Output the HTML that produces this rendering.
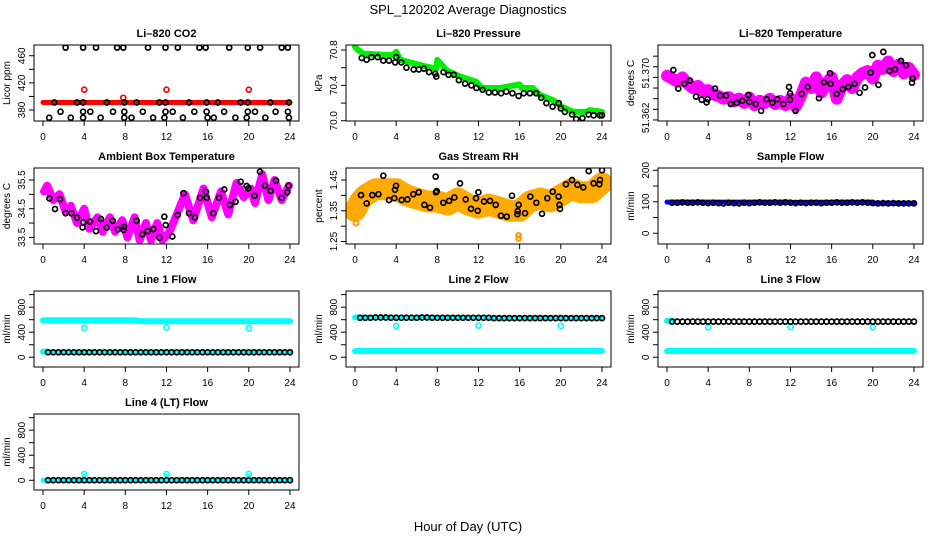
<!DOCTYPE html>
<html><head><meta charset="utf-8">
<style>
html,body{margin:0;padding:0;background:#fff;}
svg{display:block;font-family:"Liberation Sans",sans-serif;}
</style></head>
<body>
<svg id="chart" width="936" height="540" viewBox="0 0 936 540" xmlns="http://www.w3.org/2000/svg">
<text x="468" y="14" font-size="13" text-anchor="middle">SPL_120202  Average Diagnostics</text>
<text x="468" y="531" font-size="13" text-anchor="middle">Hour of Day (UTC)</text>
</svg>
<script>
// ---- data ----
var xTicks = [0,4,8,12,16,20,24];
// CO2
var co2RedHours = [0,24];
var co2RedVals = [391,391];
var co2RedOutHours = [4,12,20,7.8];
var co2RedOutVals = [410,410,410,398];
var co2BlackHours = [2.2,3.9,5.15,7.2,7.8,10.2,11.9,13.1,15.2,15.8,18.1,19.9,21.1,23.2,23.8,
 1.1,3.3,3.9,6.2,7.9,9.1,11.3,11.9,14.2,15.9,17.0,19.2,19.9,22.1,23.9,
 1.7,3.9,4.6,6.8,7.9,9.7,11.9,12.6,14.7,15.9,17.6,19.9,20.6,22.6,23.8,
 0.6,2.7,3.9,5.6,7.9,8.6,10.7,11.8,13.6,16.0,16.6,18.7,19.8,21.6,23.9];
var co2BlackVals = [472,472,472,472,472,472,472,472,472,472,472,472,472,472,472,
 391,391,391,391,391,391,391,391,391,391,391,391,391,391,391,
 377.5,377.5,377.5,377.5,377.5,377.5,377.5,377.5,377.5,377.5,377.5,377.5,377.5,377.5,377.5,
 368.7,368.7,368.7,368.7,368.7,368.7,368.7,368.7,368.7,368.7,368.7,368.7,368.7,368.7,368.7];
// Pressure
var presGreenHours = [0,0.2,0.8,3.7,4.0,4.4,7.0,7.9,8.0,8.9,10.2,11.8,12.3,14.1,16.0,16.2,17.3,18.0,19.3,20.1,21.2,22.5,22.8,24];
var presGreenVals = [70.84,70.81,70.76,70.74,70.78,70.69,70.61,70.59,70.69,70.57,70.50,70.44,70.37,70.37,70.41,70.37,70.37,70.29,70.23,70.16,70.10,70.10,70.12,70.10];
var presBlackHours = [0.65,1.13,1.6,2.2,2.75,3.3,3.9,4.0,4.5,5.0,5.7,6.2,6.7,7.2,7.8,7.9,8.6,9.1,9.6,10.1,10.7,11.3,11.8,12.4,13.0,13.6,14.2,14.7,15.3,15.9,16.4,17.0,17.6,18.1,18.6,19.2,19.8,20.0,20.4,21.1,21.5,22.1,22.7,23.2,23.8,24.0];
var presBlackVals = [70.71,70.69,70.72,70.72,70.68,70.68,70.66,70.72,70.66,70.60,70.58,70.58,70.59,70.55,70.53,70.50,70.55,70.52,70.52,70.46,70.42,70.40,70.37,70.35,70.32,70.32,70.31,70.33,70.31,70.28,70.31,70.31,70.31,70.26,70.20,70.16,70.20,70.14,70.10,70.07,70.02,70.03,70.07,70.06,70.06,70.06];
// Li-820 temperature
var tempPinkHours = [0,0.5,1,1.5,2,2.5,3,3.5,4,4.5,5,5.5,6,6.5,7,7.5,8,8.5,9,9.5,10,10.5,11,11.5,12,12.5,13,13.5,14,14.5,15,15.5,16,16.5,17,17.5,18,18.5,19,19.5,20,20.5,21,21.5,22,22.5,23,23.5,24];
var tempPinkVals = [51.3703,51.3698,51.3692,51.3700,51.3688,51.3680,51.3684,51.3674,51.3676,51.3668,51.3665,51.3660,51.3663,51.3655,51.3660,51.3652,51.3662,51.3648,51.3656,51.3652,51.3660,51.3650,51.3656,51.3648,51.3660,51.3645,51.3665,51.3690,51.3680,51.3700,51.3672,51.3690,51.3700,51.3660,51.3685,51.3695,51.3680,51.3700,51.3708,51.3712,51.3698,51.3722,51.3716,51.3730,51.3712,51.3724,51.3708,51.3718,51.3705];
var tempBlackHours = [0.62,1.10,1.68,2.24,2.82,3.37,3.85,3.95,4.66,5.15,5.73,6.19,6.77,7.32,7.90,8.00,8.62,9.14,9.69,10.24,10.72,11.31,11.86,11.95,11.95,12.50,13.09,13.67,14.77,15.26,15.84,15.91,16.49,17.07,17.62,18.21,18.72,19.24,19.79,19.95,20.54,21.02,21.61,22.16,22.74,23.23,23.87,23.81];
var tempBlackVals = [51.3714,51.3679,51.3688,51.3694,51.3664,51.3658,51.3653,51.3659,51.3679,51.3666,51.3666,51.3650,51.3652,51.3656,51.3667,51.3654,51.3650,51.3637,51.3659,51.3652,51.3659,51.3650,51.3682,51.3670,51.3658,51.3637,51.3669,51.3682,51.3661,51.3691,51.3708,51.3688,51.3669,51.3678,51.3682,51.3688,51.3671,51.3681,51.3709,51.3742,51.3686,51.3748,51.3712,51.3715,51.3731,51.3723,51.3698,51.3690];
// Ambient box temperature
var ambPinkHours = [0.1,0.4,1.0,1.6,2.2,2.7,3.3,4.0,4.5,5.3,5.8,6.5,7.0,7.7,8.2,8.9,9.4,10.0,10.5,11.1,11.6,12.3,13.0,13.8,14.6,15.6,16.4,17.3,18.0,18.8,19.5,20.2,20.6,21.3,21.9,22.5,23.2,23.9];
var ambPinkVals = [35.1,35.3,34.8,35.0,34.4,34.6,34.0,34.5,33.8,34.2,33.7,34.2,33.7,34.1,33.5,34.2,33.4,34.0,33.4,34.0,33.4,33.7,34.3,35.0,34.1,35.2,34.2,35.1,34.3,35.4,34.9,35.2,34.7,35.7,34.8,35.5,34.8,35.3];
var ambBlackHours = [0.62,1.17,1.65,2.20,2.75,3.30,3.85,3.95,4.57,5.15,5.64,6.19,6.77,7.26,7.81,7.87,9.10,9.65,10.17,10.72,11.31,11.79,11.92,12.57,13.09,13.64,14.19,14.77,15.26,15.84,15.91,16.55,17.10,17.62,18.17,18.72,19.21,19.79,19.95,20.54,21.09,21.57,22.13,22.64,23.19,23.74,23.87];
var ambBlackVals = [34.86,34.49,34.83,34.34,34.34,34.19,33.85,34.03,34.05,33.72,34.14,33.84,34.08,33.78,33.76,33.87,34.08,33.61,33.72,33.79,33.49,34.22,33.93,33.53,34.28,35.04,34.34,34.19,34.88,35.09,34.88,34.34,34.88,35.17,34.63,34.74,35.44,35.29,35.21,34.95,35.79,35.30,35.12,35.48,34.88,35.07,35.30];
// Gas stream RH
var rhBandHours = [0,0.5,1,2,3,4,5,6,7,8,9,10,11,12,13,14,15,16,17,18,19,20,21,22,23,24];
var rhBandVals = [1.35,1.38,1.40,1.42,1.42,1.42,1.40,1.39,1.38,1.38,1.37,1.39,1.37,1.36,1.37,1.36,1.35,1.35,1.38,1.39,1.38,1.40,1.42,1.41,1.41,1.44];
var rhOutHours = [0.1,15.9,15.9];
var rhOutVals = [1.31,1.27,1.26];
var rhBlackHours = [0.58,1.13,1.68,2.27,2.75,3.30,3.82,3.89,3.98,4.54,5.09,5.67,6.19,6.74,7.29,7.84,7.87,7.94,8.58,9.14,9.65,10.20,10.76,11.27,11.76,11.92,11.99,12.54,13.12,13.67,14.19,14.74,15.26,15.78,15.81,15.91,16.52,17.04,17.62,18.17,18.69,19.21,19.79,19.86,19.92,20.51,21.09,21.61,22.19,22.71,23.19,23.74,23.81,24.0];
var rhBlackVals = [1.401,1.374,1.401,1.404,1.464,1.385,1.391,1.418,1.431,1.385,1.387,1.404,1.410,1.369,1.360,1.461,1.410,1.414,1.376,1.382,1.393,1.439,1.387,1.356,1.391,1.350,1.410,1.380,1.382,1.369,1.334,1.331,1.399,1.339,1.349,1.369,1.342,1.396,1.376,1.340,1.391,1.412,1.396,1.369,1.356,1.436,1.450,1.434,1.426,1.479,1.439,1.436,1.450,1.482];
// Flows (half-hourly black samples)
var flowHours = [0.5,1,1.5,2,2.5,3,3.5,4,4.5,5,5.5,6,6.5,7,7.5,8,8.5,9,9.5,10,10.5,11,11.5,12,12.5,13,13.5,14,14.5,15,15.5,16,16.5,17,17.5,18,18.5,19,19.5,20,20.5,21,21.5,22,22.5,23,23.5,24];
var sampleBlueHours = [0,12,12.1,20,20.1,24];
var sampleBlueVals = [99,99,98,99,96,95];
var sampleBlackVals = [97,97,98,97,97,98,97,96,97,96,95,97,96,95,97,96,97,98,97,97,98,97,98,97,96,97,96,97,97,96,97,97,98,97,97,98,97,98,97,96,95,96,95,96,95,95,95,95];
var line1CyanHours = [0,9,9.5,24];
var line1CyanVals = [590,590,575,575];
var line1LowHours = [0,0.4];
var line1LowVals = [90,90];
var line1OutHours = [4,12,20];
var line1OutVals = [470,475,465];
var line1BlackVals = [80,80,80,80,80,80,80,80,80,80,80,80,80,80,80,80,80,80,80,80,80,80,80,80,80,80,80,80,80,80,80,80,80,80,80,80,80,80,80,80,80,80,80,80,80,80,80,80];
var line2CyanHours = [0,24];
var line2CyanVals = [100,100];
var line2HighHours = [0,1];
var line2HighVals = [635,635];
var line2OutHours = [4,12,20];
var line2OutVals = [500,505,500];
var line2BlackVals = [630,630,630,635,635,635,632,632,632,632,632,632,635,635,632,630,630,630,630,630,630,630,630,630,630,630,625,625,625,625,625,625,625,625,625,625,625,625,625,625,625,625,625,625,625,625,625,625];
var line3CyanHours = [0,24];
var line3CyanVals = [100,100];
var line3HighHours = [0,0.6];
var line3HighVals = [580,580];
var line3OutHours = [4,12,20];
var line3OutVals = [480,485,480];
var line3BlackVals = [570,570,570,570,570,570,570,570,570,570,570,570,570,570,570,570,570,570,570,570,570,570,570,570,570,570,570,570,570,570,570,570,570,570,570,570,570,570,570,570,570,570,570,570,570,570,570,570];
var line4CyanHours = [0,24];
var line4CyanVals = [0,0];
var line4OutHours = [4,12,20];
var line4OutVals = [100,100,100];
var line4BlackVals = [2,2,2,2,2,2,2,2,2,2,2,2,2,2,2,2,2,2,2,2,2,2,2,2,2,2,2,2,2,2,2,2,2,2,2,2,2,2,2,2,2,2,2,2,2,2,2,2];

// ---- drawing ----
var NS = "http://www.w3.org/2000/svg";
var svg = document.getElementById('chart');
var rowsTop = [45,168,291,414];
function mk(tag, attrs, parent){var e=document.createElementNS(NS,tag);for(var k in attrs)e.setAttribute(k,attrs[k]);(parent||svg).appendChild(e);return e;}

function panel(r,c,title,ylab,ylim,yticks,ylabels,slug){
  var off=c*312, L=off+34, R=off+299, T=rowsTop[r], B=T+76;
  var g=mk('g',{});
  
  
  var p={g:g,
    x:function(h){return off+43+h*10.29;},
    y:function(v){return T+(ylim[1]-v)/(ylim[1]-ylim[0])*76;}};
  var clip=mk('clipPath',{id:'clip'+slug},g);
  mk('rect',{x:L,y:T,width:R-L,height:76},clip);
  p.data=mk('g',{'clip-path':'url(#clip'+slug+')'},g);
  
  
  var box=mk('rect',{x:L,y:T,width:R-L,height:76,fill:'none',stroke:'#000','stroke-width':1},g);
  
  
  var t=mk('text',{x:(L+R)/2,y:T-8,'font-size':11,'font-weight':'bold','text-anchor':'middle'},g);
  t.textContent=title;
  
  
  xTicks.forEach(function(h){
    var xx=p.x(h);
    mk('line',{x1:xx,x2:xx,y1:B,y2:B+5,stroke:'#000'},g);
    var tl=mk('text',{x:xx,y:B+19,'font-size':10,'text-anchor':'middle'},g);
    tl.textContent=h;
    
    
  });
  yticks.forEach(function(v){var yy=p.y(v);mk('line',{x1:L-5,x2:L,y1:yy,y2:yy,stroke:'#000'},g);});
  ylabels.forEach(function(lb){
    var yy=p.y(lb[0]);
    var tl=mk('text',{x:L-9,y:yy,'font-size':10,'text-anchor':'middle',transform:'rotate(-90 '+(L-9)+' '+yy+')'},g);
    tl.textContent=lb[1];
    
    
  });
  var yl=mk('text',{x:off+10,y:(T+B)/2,'font-size':10,'text-anchor':'middle',transform:'rotate(-90 '+(off+10)+' '+((T+B)/2)+')'},g);
  yl.textContent=ylab;
  
  
  return p;
}
function band(p,hs,vs,color,w,name){
  var d=hs.map(function(h,i){return (i?'L':'M')+p.x(h).toFixed(1)+' '+p.y(vs[i]).toFixed(1);}).join(' ');
  var e=mk('path',{d:d,fill:'none',stroke:color,'stroke-width':w,'stroke-linejoin':'round','stroke-linecap':'round'},p.data);
  
  
}
function pts(p,hs,vs,color,name,rad,sw){
  hs.forEach(function(h,i){
    var e=mk('circle',{cx:p.x(h).toFixed(1),cy:p.y(vs[i]).toFixed(1),r:rad||2.5,fill:'none',stroke:color,'stroke-width':sw||1.7},p.data);
    
    
  });
}

// CO2
var p=panel(0,0,'Li–820 CO2','Licor ppm',[363.8,475.8],[380,400,420,440,460],[[380,'380'],[420,'420'],[460,'460']],'co2');
band(p,co2RedHours,co2RedVals,'#ff0000',5,'co2-red-series');
pts(p,co2RedOutHours,co2RedOutVals,'#ff0000','co2-red-point');
pts(p,co2BlackHours,co2BlackVals,'#000','co2-black-point');
// Pressure
p=panel(0,1,'Li–820 Pressure','kPa',[69.997,70.857],[70.0,70.2,70.4,70.6,70.8],[[70.0,'70.0'],[70.4,'70.4'],[70.8,'70.8']],'pressure');
band(p,presGreenHours,presGreenVals,'#00ee00',6,'pressure-green-series');
pts(p,presBlackHours,presBlackVals,'#000','pressure-black-point');
// Li-820 Temperature
p=panel(0,2,'Li–820 Temperature','degrees C',[51.3618,51.3761],[51.362,51.364,51.366,51.368,51.370,51.372,51.374],[[51.3624,'51.362'],[51.3708,'51.370']],'li820-temp');
band(p,tempPinkHours,tempPinkVals,'#ff00ff',12,'li820-temp-pink-series');
pts(p,tempBlackHours,tempBlackVals,'#000','li820-temp-black-point');
// Ambient
p=panel(1,0,'Ambient Box Temperature','degrees C',[33.27,35.918],[33.5,34.0,34.5,35.0,35.5],[[33.5,'33.5'],[34.5,'34.5'],[35.5,'35.5']],'ambient-temp');
band(p,ambPinkHours,ambPinkVals,'#ff00ff',8,'ambient-pink-series');
pts(p,ambBlackHours,ambBlackVals,'#000','ambient-black-point');
// RH
p=panel(1,1,'Gas Stream RH','percent',[1.242,1.489],[1.25,1.30,1.35,1.40,1.45],[[1.25,'1.25'],[1.35,'1.35'],[1.45,'1.45']],'rh');
band(p,rhBandHours,rhBandVals,'#ffaa00',22,'rh-orange-series');
pts(p,rhOutHours,rhOutVals,'#ff9900','rh-orange-point',2.4,2);
pts(p,rhBlackHours,rhBlackVals,'#000','rh-black-point');
// Sample flow
p=panel(1,2,'Sample Flow','ml/min',[-34,207.3],[0,50,100,150,200],[[0,'0'],[100,'100'],[200,'200']],'sample-flow');
band(p,sampleBlueHours,sampleBlueVals,'#0000ff',5,'sample-blue-series');
pts(p,flowHours,sampleBlackVals,'#000','sample-black-point');
// Lines
var fl=[-155,1058], ft=[0,200,400,600,800,1000], fll=[[0,'0'],[400,'400'],[800,'800']];
p=panel(2,0,'Line 1 Flow','ml/min',fl,ft,fll,'line1');
band(p,line1CyanHours,line1CyanVals,'#00ffff',6,'line1-cyan-series');
band(p,line1LowHours,line1LowVals,'#00ffff',6,'line1-cyan-low');
pts(p,line1OutHours,line1OutVals,'#00ffff','line1-cyan-point',2.6,1.6);
band(p,[0.3,24],[80,80],'#00ffff',4,'line1-cyan-under');
pts(p,flowHours,line1BlackVals,'#000','line1-black-point');
p=panel(2,1,'Line 2 Flow','ml/min',fl,ft,fll,'line2');
band(p,line2CyanHours,line2CyanVals,'#00ffff',6,'line2-cyan-series');
band(p,line2HighHours,line2HighVals,'#00ffff',6,'line2-cyan-high');
band(p,[1,24],[630,630],'#00ffff',4,'line2-cyan-under');
pts(p,line2OutHours,line2OutVals,'#00ffff','line2-cyan-point',2.6,1.6);
pts(p,flowHours,line2BlackVals,'#000','line2-black-point');
p=panel(2,2,'Line 3 Flow','ml/min',fl,ft,fll,'line3');
band(p,line3CyanHours,line3CyanVals,'#00ffff',6,'line3-cyan-series');
band(p,line3HighHours,line3HighVals,'#00ffff',6,'line3-cyan-high');
pts(p,line3OutHours,line3OutVals,'#00ffff','line3-cyan-point',2.6,1.6);
pts(p,flowHours,line3BlackVals,'#000','line3-black-point');
p=panel(3,0,'Line 4 (LT) Flow','ml/min',fl,ft,fll,'line4');
band(p,line4CyanHours,line4CyanVals,'#00ffff',5,'line4-cyan-series');
line4OutHours.forEach(function(h,i){
  var e=mk('line',{x1:p.x(h),x2:p.x(h),y1:p.y(0),y2:p.y(line4OutVals[i]),stroke:'#00ffff','stroke-width':1.5},p.data);
  
  
});
pts(p,line4OutHours,line4OutVals,'#00ffff','line4-cyan-point',2.6,1.6);
pts(p,flowHours,line4BlackVals,'#000','line4-black-point');
</script>
</body></html>
